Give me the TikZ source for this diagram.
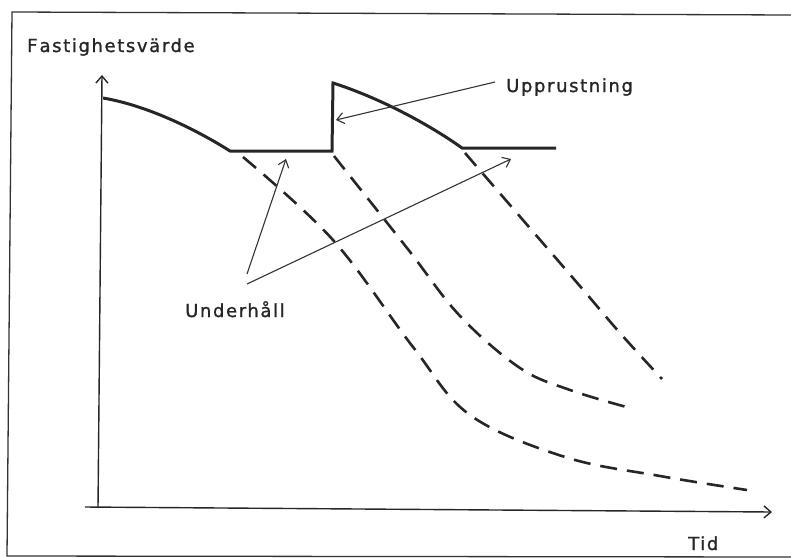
\documentclass[tikz,border=0pt]{standalone}
\usepackage{fontspec}
\newfontfamily\labfont[LetterSpace=9,FakeBold=1.2]{DejaVu Sans}
\usetikzlibrary{arrows.meta}
\begin{document}
\begin{tikzpicture}[x=1pt,y=-1pt,
  frame/.style={line width=1.3pt,black!80},
  axis/.style={line width=1.4pt,black!85,-{Straight Barb[length=7pt,width=12pt,line width=1.4pt]}},
  valcurve/.style={line width=3pt,black!85,line join=miter},
  decay/.style={line width=2.6pt,black!85,dash pattern=on 17pt off 10pt},
  pointer/.style={line width=1.1pt,black!80,-{Straight Barb[length=7pt,width=11pt,line width=1.1pt]}},
  lab/.style={font=\labfont\fontsize{18}{21}\selectfont,text=black!85,inner sep=0pt,anchor=base west}]
\useasboundingbox (0,0) rectangle (791,557);
% frame
\draw[frame] (791,15) -- (12,12) -- (7,556) -- (791,557);
% axes
\coordinate (yb) at (98,508);
\coordinate (yt) at (102,75);
\coordinate (xl) at (85,507);
\coordinate (xr) at (772,512);
\draw[axis] (yb) -- (yt);
\draw[axis] (xl) -- (xr);
% value curve
\coordinate (v0) at (103,98);
\coordinate (v1) at (230,151);
\coordinate (v2) at (332,151);
\coordinate (v3) at (333,83);
\coordinate (v4) at (462,148);
\coordinate (v5) at (556,148);
\draw[valcurve] (v0) .. controls (150,106) and (200,132) .. (v1) -- (v2) -- (v3)
  .. controls (380,98) and (430,125) .. (v4) -- (v5);
% decay curves
\draw[decay] plot[smooth,tension=0.6] coordinates {(243,157) (333,240) (413,347) (470,415) (565,457) (660,476) (747,490)};
\draw[decay] plot[smooth,tension=0.6] coordinates {(334,156) (407,248) (460,316) (520,368) (570,390) (630,408)};
\draw[decay] plot[smooth,tension=0.6] coordinates {(465,153) (573,278) (620,333) (662,379)};
% labels
\node[lab] (fv) at (27,52) {F\kern2pt astighetsvärde};
\node[lab] (tid) at (688,550) {Tid};
\node[lab] (upp) at (506,92) {Upprustning};
\node[lab] (und) at (185,317) {Underhåll};
% pointers
\coordinate (ut) at (495,82);
\coordinate (uh) at (336,120);
\draw[pointer] (ut) -- (uh);
\coordinate (a1t) at (247,274);
\coordinate (a1h) at (286,159);
\coordinate (a2t) at (247,284);
\coordinate (a2h) at (511,159);
\draw[pointer] (a1t) -- (a1h);
\draw[pointer] (a2t) -- (a2h);
\end{tikzpicture}
\end{document}
